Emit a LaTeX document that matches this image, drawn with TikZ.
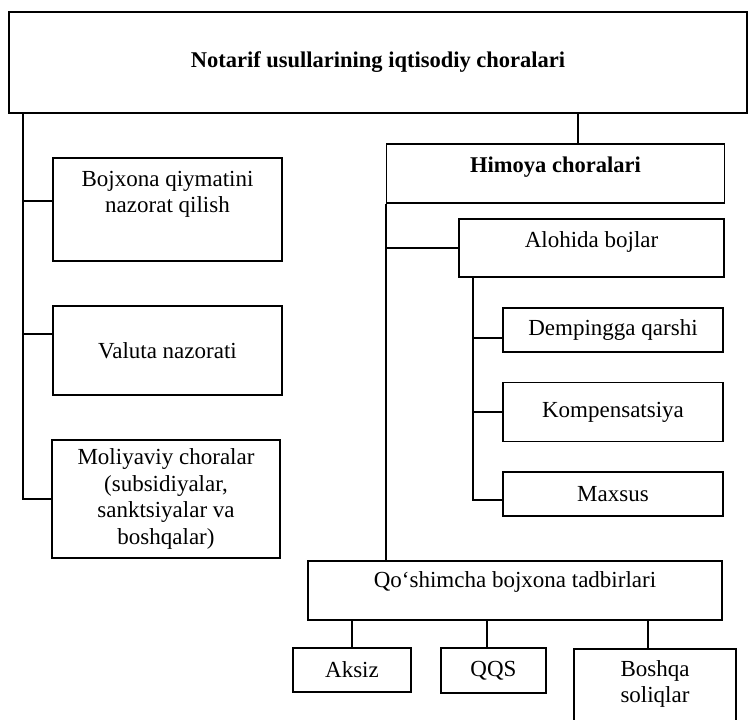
\documentclass[tikz,border=0pt]{standalone}
\usepackage{fontspec}
\setmainfont{Liberation Serif}
\usetikzlibrary{positioning}

\tikzset{
  box/.style={draw, line width=1.3pt, inner sep=0pt, align=center},
  txt/.style={align=center, inner sep=0pt},
  link/.style={line width=1.3pt}
}

\begin{document}
\begin{tikzpicture}[x=1pt, y=-1pt, font=\fontsize{23}{26.5}\selectfont]
\useasboundingbox (0,0) rectangle (748,720);
\clip (0,0) rectangle (748,720);

\node[box, minimum width=738, minimum height=101, font=\fontsize{22.5}{26}\selectfont\bfseries] (top) at (378,62.5) {Notarif usullarining iqtisodiy choralari};

\node[box, minimum width=229, minimum height=103] (bojx) at (167.5,209.5) {};
\node[txt] (bojxT) at ([yshift=15pt]bojx.center) {Bojxona qiymatini\\nazorat qilish};
\node[box, minimum width=229, minimum height=89] (valuta) at (167.5,350.5) {Valuta nazorati};
\node[box, minimum width=228, minimum height=118] (moliya) at (166,499) {Moliyaviy choralar\\(subsidiyalar,\\sanktsiyalar va\\boshqalar)};

\node[box, minimum width=338, minimum height=59] (himoya) at (555.5,173.5) {};
\node[txt, font=\fontsize{22.5}{26}\selectfont\bfseries] (himoyaT) at ([yshift=6.5pt]himoya.center) {Himoya choralari};
\node[box, minimum width=265, minimum height=58] (alohida) at (591.5,248) {};
\node[txt] (alohidaT) at ([yshift=6pt]alohida.center) {Alohida bojlar};
\node[box, minimum width=220, minimum height=44] (demping) at (613,330) {Dempingga qarshi};
\node[box, minimum width=220, minimum height=59] (kompen) at (613,412) {Kompensatsiya};
\node[box, minimum width=220, minimum height=44] (maxsus) at (613,494) {Maxsus};

\node[box, minimum width=414, minimum height=59] (qoshim) at (515,590.5) {};
\node[txt] (qoshimT) at ([yshift=8.5pt]qoshim.center) {Qo‘shimcha bojxona tadbirlari};
\node[box, minimum width=118, minimum height=44] (aksiz) at (352,670) {Aksiz};
\node[box, minimum width=105, minimum height=45] (qqs) at (493.5,670.5) {QQS};
\node[box, minimum width=162, minimum height=90] (boshqa) at (655,694) {};
\node[txt] (boshqaT) at (655,684) {Boshqa\\soliqlar};

% left branch
\coordinate (ltrunk) at (23,0);
\coordinate (bojxIn) at ([yshift=8.5pt]bojx.west);
\coordinate (valutaIn) at ([yshift=16.5pt]valuta.west);
\draw[link] (top.south -| ltrunk) |- (moliya.west);
\draw[link] (ltrunk |- bojxIn) -- (bojxIn);
\draw[link] (ltrunk |- valutaIn) -- (valutaIn);

% right branch
\coordinate (rtrunk) at (578,0);
\draw[link] (top.south -| rtrunk) -- (himoya.north -| rtrunk);
\draw[link] (himoya.south west) -- (himoya.south west |- qoshim.north);
\draw[link] (himoya.south west |- alohida.west) -- (alohida.west);

\coordinate (atrunk) at (473,0);
\coordinate (dempIn) at ([yshift=-8pt]demping.west);
\coordinate (maxsusIn) at ([yshift=-6pt]maxsus.west);
\draw[link] (alohida.south -| atrunk) |- (maxsusIn);
\draw[link] (atrunk |- dempIn) -- (dempIn);
\draw[link] (atrunk |- kompen.west) -- (kompen.west);

\coordinate (qqsIn) at ([xshift=-6.5pt]qqs.north);
\coordinate (boshqaIn) at ([xshift=-7pt]boshqa.north);
\draw[link] (aksiz.north) -- (aksiz.north |- qoshim.south);
\draw[link] (qqsIn) -- (qqsIn |- qoshim.south);
\draw[link] (boshqaIn) -- (boshqaIn |- qoshim.south);
\end{tikzpicture}
\end{document}
